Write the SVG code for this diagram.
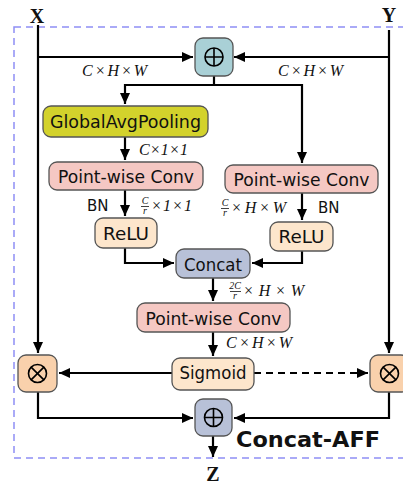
<svg xmlns="http://www.w3.org/2000/svg" width="403" height="484" viewBox="0 0 403 484">
<defs>
<marker id="ah" markerUnits="userSpaceOnUse" markerWidth="12" markerHeight="10" refX="11" refY="5" orient="auto">
<path d="M0,0 L11,5 L0,10 Z" fill="#000"/>
</marker>
<style>
.ln{fill:none;stroke:#000;stroke-width:2.2}
.box{stroke:#555;stroke-width:1.3}
.nt{font-family:"DejaVu Sans",sans-serif;font-size:18.5px;fill:#111;text-anchor:middle}
.mt{font-family:"Liberation Serif",serif;font-style:italic;font-size:16px;fill:#111}
.fr{font-family:"Liberation Serif",serif;font-style:italic;font-size:10px;fill:#111;text-anchor:middle}
.bn{font-family:"DejaVu Sans",sans-serif;font-size:15px;fill:#111}
.io{font-family:"Liberation Serif",serif;font-weight:bold;font-size:20px;fill:#111;text-anchor:middle}
.sym{fill:none;stroke:#000;stroke-width:1.6}
</style>
</defs>
<rect x="14" y="27" width="400" height="431" fill="none" stroke="#8f8ff5" stroke-width="1.5" stroke-dasharray="7,5"/>
<g id="connectors">
<path class="ln" d="M38 25 V353" marker-end="url(#ah)"/>
<path class="ln" d="M389 30 V353" marker-end="url(#ah)"/>
<path class="ln" d="M38 57 H193" marker-end="url(#ah)"/>
<path class="ln" d="M389 57 H234" marker-end="url(#ah)"/>
<path class="ln" d="M214 76 V85 M125 85 H302"/>
<path class="ln" d="M125 84 V104" marker-end="url(#ah)"/>
<path class="ln" d="M302 84 V163" marker-end="url(#ah)"/>
<path class="ln" d="M125 137 V160" marker-end="url(#ah)"/>
<path class="ln" d="M125 190 V216" marker-end="url(#ah)"/>
<path class="ln" d="M302 193 V220" marker-end="url(#ah)"/>
<path class="ln" d="M125 248 V263 H174" marker-end="url(#ah)"/>
<path class="ln" d="M302 251 V263 H252" marker-end="url(#ah)"/>
<path class="ln" d="M213 278 V301" marker-end="url(#ah)"/>
<path class="ln" d="M213 332 V356" marker-end="url(#ah)"/>
<path class="ln" d="M172 373 H59" marker-end="url(#ah)"/>
<path class="ln" d="M254 373 H368" stroke-dasharray="7,5" marker-end="url(#ah)"/>
<path class="ln" d="M38 392 V418 H193" marker-end="url(#ah)"/>
<path class="ln" d="M389 392 V418 H234" marker-end="url(#ah)"/>
<path class="ln" d="M213 436 V457" marker-end="url(#ah)"/>
</g>
<g id="labels">
<text class="io" x="37" y="23">X</text>
<text class="io" x="389" y="22">Y</text>
<text class="io" x="213" y="481">Z</text>
<text class="mt" x="82" y="76" textLength="65" lengthAdjust="spacing">C×H×W</text>
<text class="mt" x="278" y="76" textLength="65" lengthAdjust="spacing">C×H×W</text>
<text class="mt" x="139" y="155" textLength="49" lengthAdjust="spacing">C×1×1</text>
<text class="bn" x="87" y="211">BN</text>
<g>
<text class="fr" x="145" y="204">C</text>
<line x1="141" y1="206.5" x2="149" y2="206.5" stroke="#111" stroke-width="0.8"/>
<text class="fr" x="145" y="214">r</text>
<text class="mt" x="151" y="211" textLength="41" lengthAdjust="spacing">×1×1</text>
</g>
<g>
<text class="fr" x="225" y="206">C</text>
<line x1="221" y1="208.5" x2="229" y2="208.5" stroke="#111" stroke-width="0.8"/>
<text class="fr" x="225" y="216">r</text>
<text class="mt" x="231" y="213" textLength="55" lengthAdjust="spacing">×H×W</text>
</g>
<text class="bn" x="318" y="213">BN</text>
<g>
<text class="fr" x="235" y="289">2C</text>
<line x1="230" y1="291.5" x2="241" y2="291.5" stroke="#111" stroke-width="0.8"/>
<text class="fr" x="235" y="299">r</text>
<text class="mt" x="243" y="296" textLength="61" lengthAdjust="spacing">×H×W</text>
</g>
<text class="mt" x="226" y="348" textLength="66" lengthAdjust="spacing">C×H×W</text>
<text x="236" y="447" font-family="DejaVu Sans,sans-serif" font-weight="bold" font-size="21" fill="#111" textLength="144" lengthAdjust="spacingAndGlyphs">Concat-AFF</text>
</g>
<g id="add-top">
<rect class="box" x="195" y="38" width="38" height="38" rx="8" fill="#a9d0d6"/>
<circle class="sym" cx="214" cy="57" r="9"/>
<path class="sym" d="M205 57 H223 M214 48 V66"/>
</g>
<g id="gap">
<rect class="box" x="43" y="106" width="165" height="31" rx="8" fill="#d3d22c"/>
<text class="nt" x="125.5" y="128" textLength="151" lengthAdjust="spacingAndGlyphs">GlobalAvgPooling</text>
</g>
<g id="pwc-left">
<rect class="box" x="49" y="162" width="154" height="28" rx="8" fill="#f5c8c3"/>
<text class="nt" x="126" y="183" textLength="136" lengthAdjust="spacingAndGlyphs">Point-wise Conv</text>
</g>
<g id="pwc-right">
<rect class="box" x="225" y="165" width="153" height="28" rx="8" fill="#f5c8c3"/>
<text class="nt" x="301.5" y="186" textLength="136" lengthAdjust="spacingAndGlyphs">Point-wise Conv</text>
</g>
<g id="relu-left">
<rect class="box" x="95" y="218" width="62" height="30" rx="8" fill="#fde6cc"/>
<text class="nt" x="126" y="240" textLength="46" lengthAdjust="spacingAndGlyphs">ReLU</text>
</g>
<g id="relu-right">
<rect class="box" x="270" y="222" width="63" height="29" rx="8" fill="#fde6cc"/>
<text class="nt" x="301.5" y="243" textLength="46" lengthAdjust="spacingAndGlyphs">ReLU</text>
</g>
<g id="concat">
<rect class="box" x="176" y="249" width="74" height="29" rx="8" fill="#b8c1d8"/>
<text class="nt" x="213" y="270.5" textLength="58" lengthAdjust="spacingAndGlyphs">Concat</text>
</g>
<g id="pwc-center">
<rect class="box" x="137" y="303" width="153" height="29" rx="8" fill="#f5c8c3"/>
<text class="nt" x="213.5" y="324.5" textLength="136" lengthAdjust="spacingAndGlyphs">Point-wise Conv</text>
</g>
<g id="sigmoid">
<rect class="box" x="172" y="358" width="82" height="32" rx="8" fill="#fde6cc"/>
<text class="nt" x="213" y="379" textLength="67" lengthAdjust="spacingAndGlyphs">Sigmoid</text>
</g>
<g id="mul-left">
<rect class="box" x="18" y="355" width="39" height="37" rx="8" fill="#f9d1ac"/>
<circle class="sym" cx="37.5" cy="373.5" r="9"/>
<path class="sym" d="M31.1 367.1 L43.9 379.9 M43.9 367.1 L31.1 379.9"/>
</g>
<g id="mul-right">
<rect class="box" x="370" y="355" width="39" height="37" rx="8" fill="#f9d1ac"/>
<circle class="sym" cx="389.5" cy="373.5" r="9"/>
<path class="sym" d="M383.1 367.1 L395.9 379.9 M395.9 367.1 L383.1 379.9"/>
</g>
<g id="add-bottom">
<rect class="box" x="195" y="399" width="37" height="37" rx="8" fill="#b8c1d8"/>
<circle class="sym" cx="213.5" cy="417.5" r="9"/>
<path class="sym" d="M204.5 417.5 H222.5 M213.5 408.5 V426.5"/>
</g>
</svg>
